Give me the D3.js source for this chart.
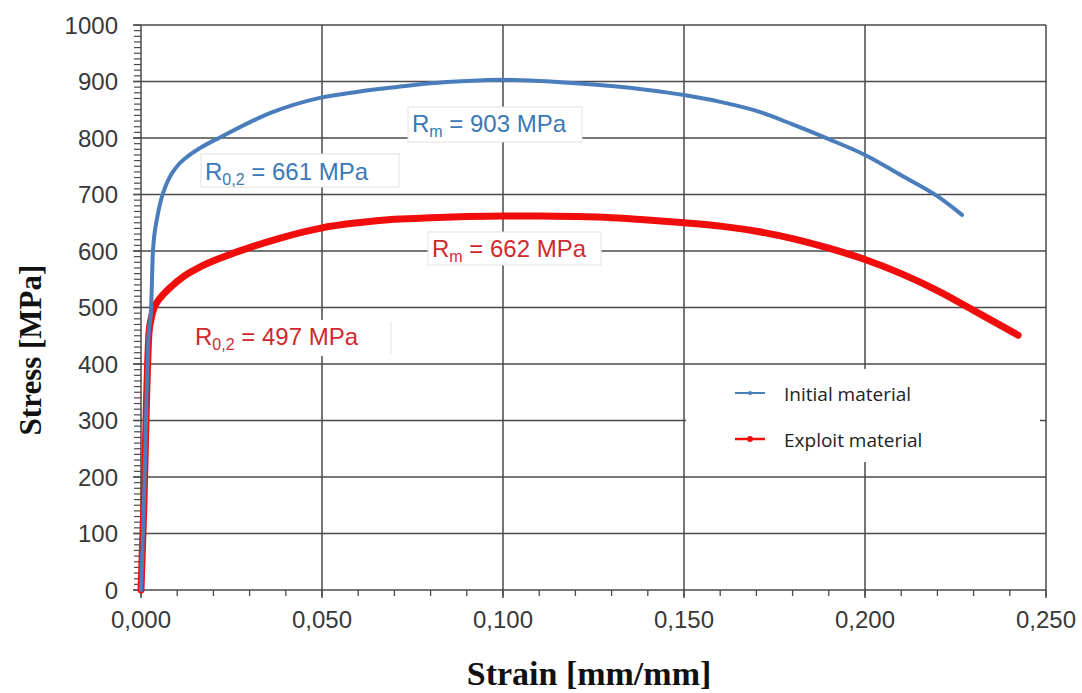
<!DOCTYPE html>
<html><head><meta charset="utf-8">
<script src="https://cdn.jsdelivr.net/npm/d3@7/dist/d3.min.js"></script>
<style>body{margin:0;background:#fff}svg{display:block}</style>
</head><body><svg id="c" width="1082" height="693"></svg>
<script>
// ---- data ----
const initialStrain = [0,0.0008,0.0015,0.002,0.0028,0.0033,0.0045,0.0055,0.007,0.0085,0.0105,0.013,0.0165,0.0218,0.0356,0.0494,0.06,0.07,0.08,0.09,0.1,0.11,0.12,0.13,0.14,0.15,0.16,0.17,0.18,0.19,0.2,0.21,0.22,0.2268];
const initialStress = [0,150,330,440,500,600,660,690,718,737,754,768,783,801,844,871,882,890,897,901,903,901,897,892,885,876,864,848,824,798,770,734,697,664];
const exploitStrain = [0,0.0008,0.0015,0.0022,0.0028,0.0035,0.0045,0.006,0.008,0.012,0.017,0.0246,0.03,0.038,0.05,0.06,0.07,0.08,0.09,0.1,0.11,0.12,0.13,0.14,0.15,0.16,0.17,0.18,0.19,0.2,0.21,0.22,0.23,0.2423];
const exploitStress = [0,150,330,455,480,497,510,522,535,556,574,594,606,622,641,650,656,659,661,662,662,661,659,655,650,644,635,622,605,585,560,530,495,451];
const yTicks = [0,100,200,300,400,500,600,700,800,900,1000];
const xTicks = [0,0.05,0.1,0.15,0.2,0.25];
const xTickLabels = ["0,000","0,050","0,100","0,150","0,200","0,250"];
const seriesNames = ["Initial material","Exploit material"];
const annotations = [
  {sub:"m", value:"903 MPa", series:0},
  {sub:"0,2", value:"661 MPa", series:0},
  {sub:"m", value:"662 MPa", series:1},
  {sub:"0,2", value:"497 MPa", series:1}
];

// ---- drawing ----
const svg = d3.select("#c");
const x = d3.scaleLinear().domain([0,0.25]).range([141,1046]);
const y = d3.scaleLinear().domain([0,1000]).range([590,25]);
const gridCol = "#4a4a4a";
const lineCols = ["#4a7dbb","#f20d0d"];
const textCols = ["#3b78b4","#cf2a2e"];
const sans = "Liberation Sans, Arial, sans-serif";

// minor ticks
svg.append("g").selectAll("line").data(d3.range(0,1001,10)).join("line")
  .attr("x1",134).attr("x2",141).attr("y1",d=>y(d)).attr("y2",d=>y(d))
  .attr("stroke",gridCol).attr("stroke-width",1.2);
svg.append("g").selectAll("line").data(d3.range(0,0.2501,0.01)).join("line")
  .attr("x1",d=>x(d)).attr("x2",d=>x(d)).attr("y1",590).attr("y2",596)
  .attr("stroke",gridCol).attr("stroke-width",1.3);
// grid
svg.append("g").selectAll("line").data(yTicks).join("line")
  .attr("x1",133).attr("x2",x(0.25)).attr("y1",d=>y(d)).attr("y2",d=>y(d))
  .attr("stroke",gridCol).attr("stroke-width",1.5);
svg.append("g").selectAll("line").data(xTicks).join("line")
  .attr("x1",d=>x(d)).attr("x2",d=>x(d)).attr("y1",y(1000)).attr("y2",598)
  .attr("stroke",gridCol).attr("stroke-width",1.5);

// tick labels
svg.append("g").selectAll("text").data(yTicks).join("text")
  .attr("x",118).attr("y",d=>y(d)+8.5).attr("text-anchor","end")
  .attr("font-family",sans).attr("font-size",24).attr("fill","#383838")
  .text(d=>d);
svg.append("g").selectAll("text").data(xTicks).join("text")
  .attr("x",d=>x(d)).attr("y",628).attr("text-anchor","middle")
  .attr("font-family",sans).attr("font-size",24).attr("fill","#383838")
  .text((d,i)=>xTickLabels[i]);

// axis titles
svg.append("text").attr("transform","translate(41,350) rotate(-90)").attr("text-anchor","middle")
  .attr("font-family","Liberation Serif, Times New Roman, serif").attr("font-weight","bold").attr("font-size",31)
  .attr("fill","#111").text("Stress [MPa]");
svg.append("text").attr("x",589).attr("y",685).attr("text-anchor","middle")
  .attr("font-family","Liberation Serif, Times New Roman, serif").attr("font-weight","bold").attr("font-size",34)
  .attr("fill","#111").text("Strain [mm/mm]");

// legend background (covers grid)
svg.append("rect").attr("x",686).attr("y",369).attr("width",354).attr("height",93).attr("fill","#fff");

// annotation boxes
const boxes = [
  {x:408,y:107,w:174,h:35,tx:412,ty:132},
  {x:201,y:154,w:198,h:33,tx:205,ty:180},
  {x:428,y:232,w:173,h:33,tx:432,ty:257},
  {x:192,y:320,w:199,h:36,tx:195,ty:345}
];
const ag = svg.append("g");
annotations.forEach((a,i)=>{
  const b = boxes[i];
  ag.append("rect").attr("x",b.x).attr("y",b.y).attr("width",b.w).attr("height",b.h)
    .attr("fill","#fff").attr("stroke",i===3?"none":"#e2e2e2").attr("stroke-width",1);
  const t = ag.append("text").attr("x",b.tx).attr("y",b.ty)
    .attr("font-family",sans).attr("font-size",24).attr("fill",textCols[a.series]);
  t.append("tspan").text("R");
  t.append("tspan").attr("font-size",16).attr("dy",5).text(a.sub);
  t.append("tspan").attr("dy",-5).text(" = "+a.value);
});
ag.append("line").attr("x1",391).attr("x2",391).attr("y1",322).attr("y2",354).attr("stroke","#e2e2e2");

// curves
const line = d3.line().x(d=>x(d[0])).y(d=>y(d[1])).curve(d3.curveMonotoneX);
const curves = [d3.zip(initialStrain, initialStress), d3.zip(exploitStrain, exploitStress)];
svg.append("path").datum(curves[1]).attr("d",line).attr("fill","none")
  .attr("stroke",lineCols[1]).attr("stroke-width",7).attr("stroke-linecap","round").attr("stroke-linejoin","round");
svg.append("path").datum(curves[0]).attr("d",line).attr("fill","none")
  .attr("stroke",lineCols[0]).attr("stroke-width",4).attr("stroke-linecap","round").attr("stroke-linejoin","round");

// legend
const lg = svg.append("g");
seriesNames.forEach((n,i)=>{
  const ly = 393 + i*46;
  lg.append("line").attr("x1",735).attr("x2",765).attr("y1",ly).attr("y2",ly)
    .attr("stroke",lineCols[i]).attr("stroke-width",i?2.5:2);
  lg.append("circle").attr("cx",750).attr("cy",ly).attr("r",i?3:2).attr("fill",lineCols[i]);
  lg.append("text").attr("x",784).attr("y",ly+8)
    .attr("font-family","Open Sans, Liberation Sans, sans-serif").attr("font-size",19).attr("fill","#222").text(n);
});
</script></body></html>
